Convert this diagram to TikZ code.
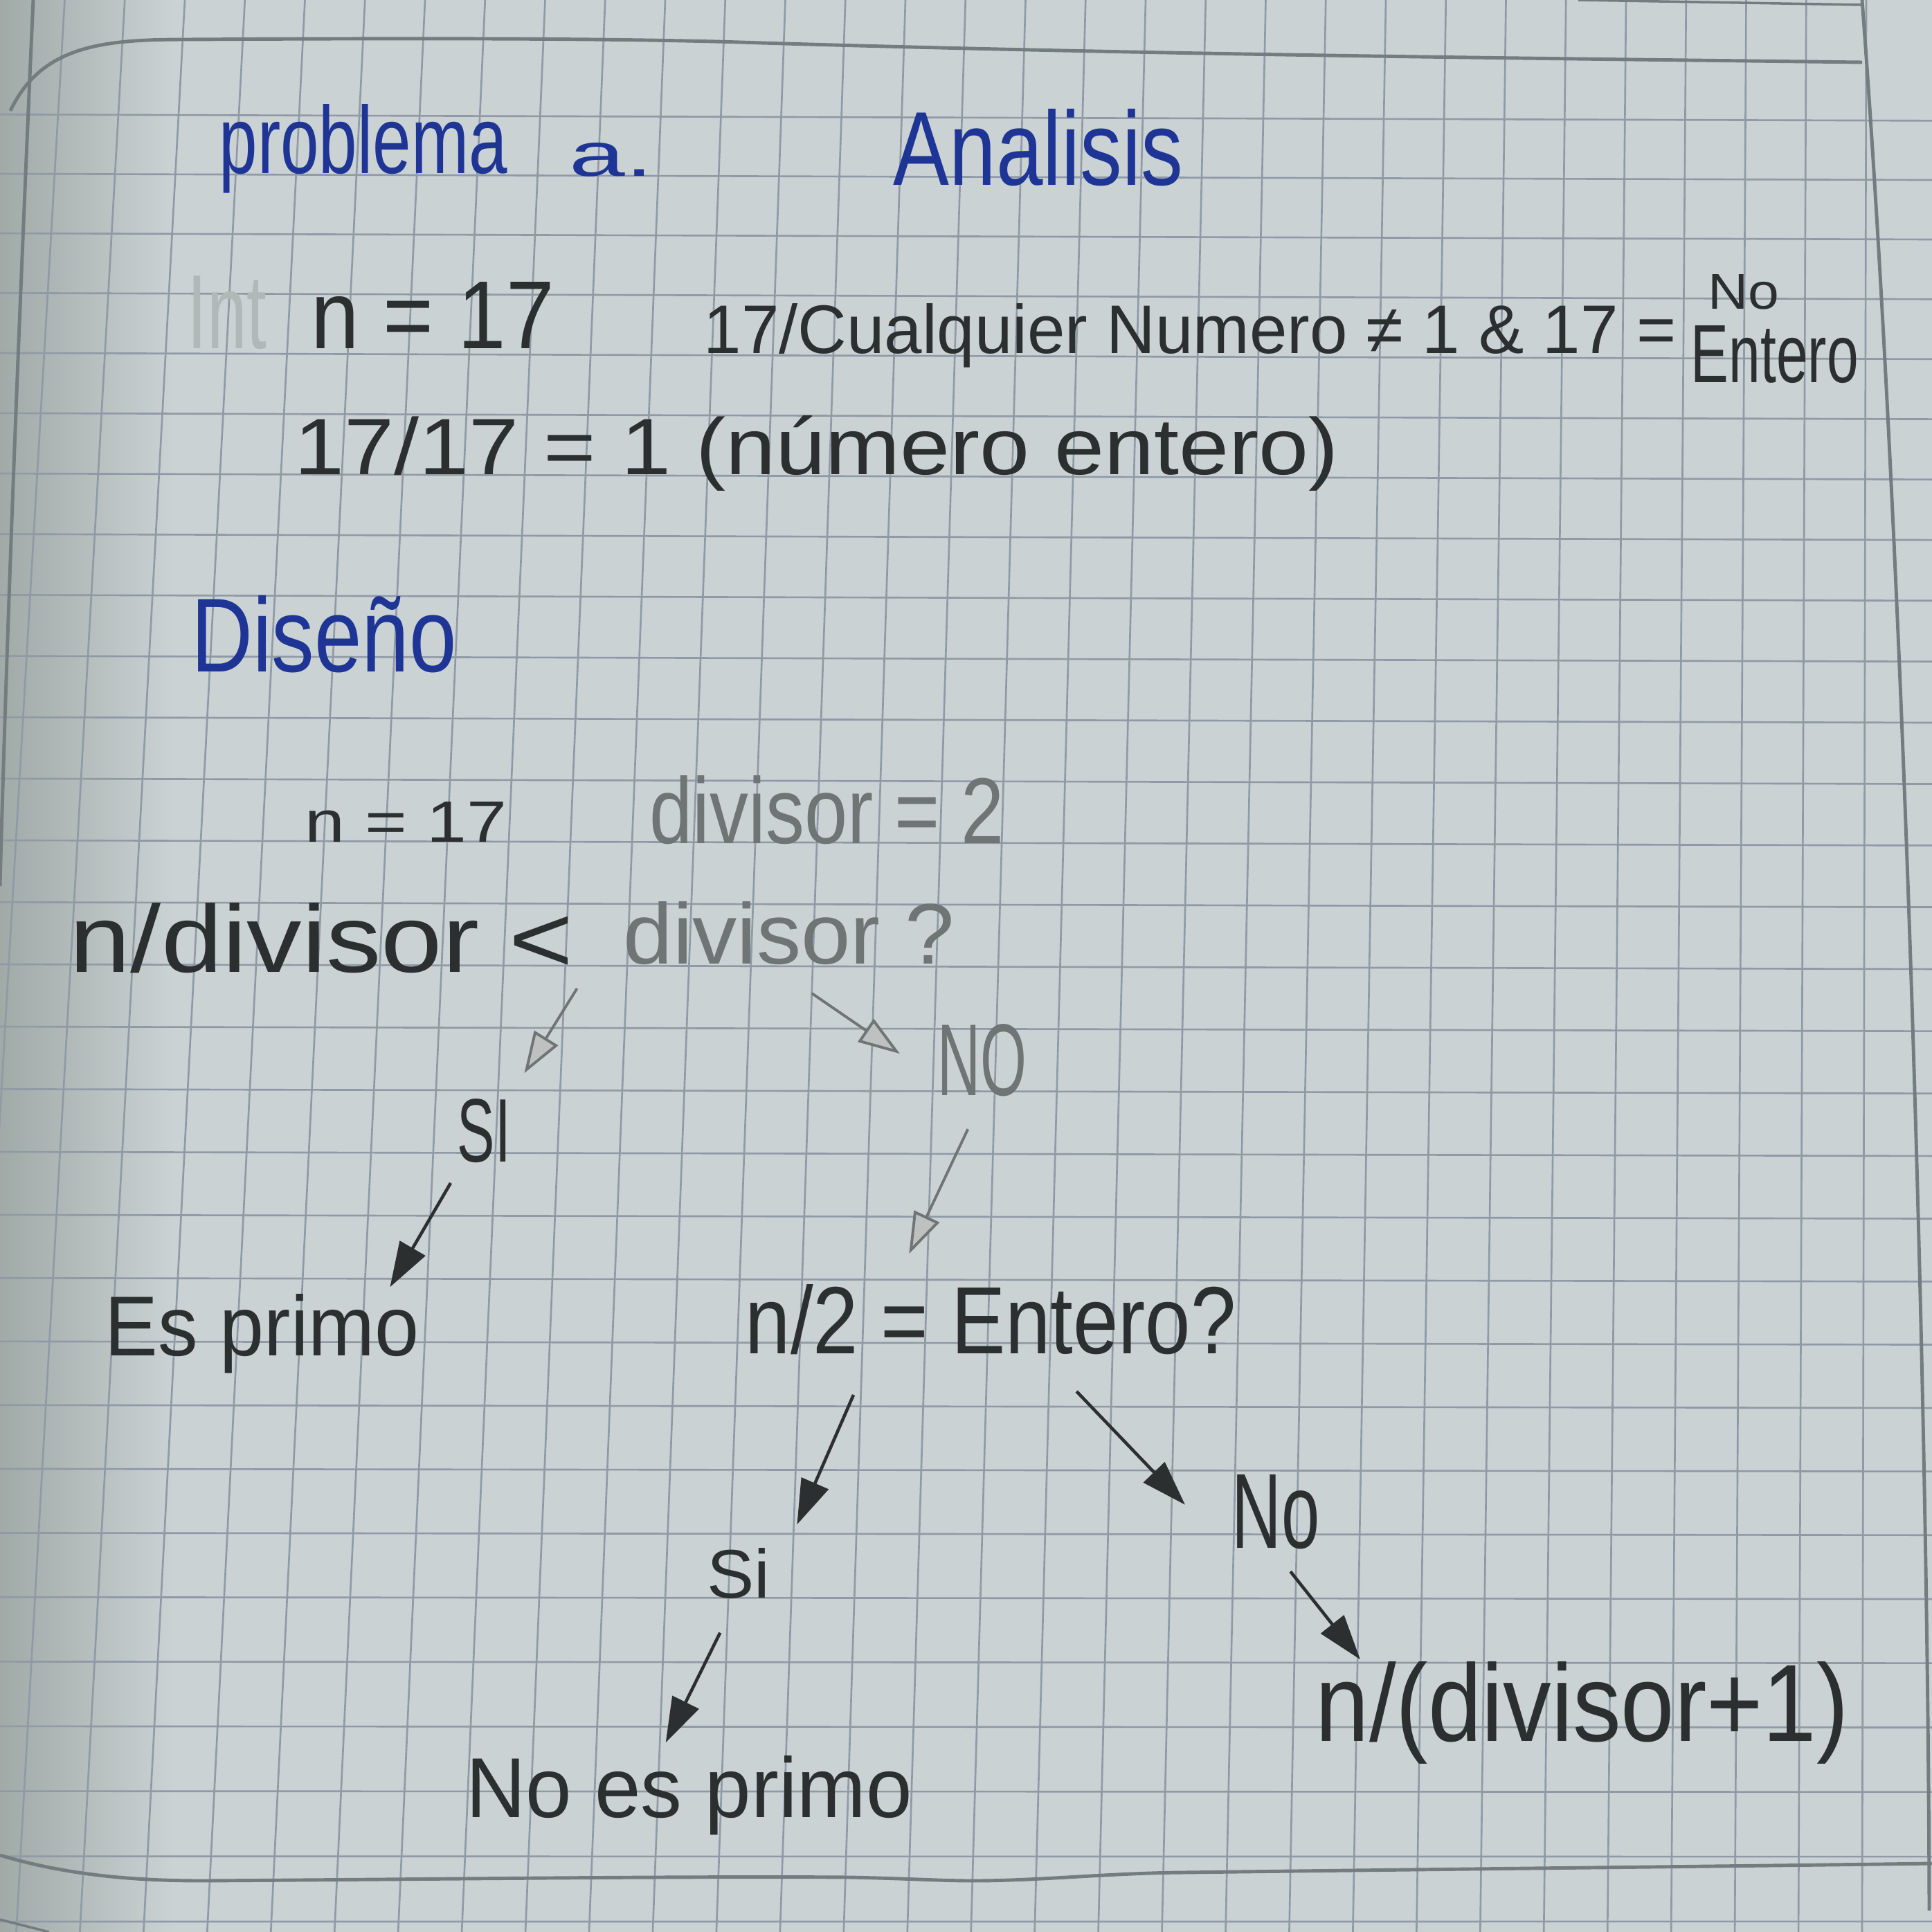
\documentclass[tikz,border=0pt]{standalone}
\usepackage{fontspec}
\usepackage{graphicx}
\newfontfamily\hand{Liberation Sans}
\usetikzlibrary{arrows.meta}

\definecolor{paper}{HTML}{CAD2D3}
\definecolor{paperdark}{HTML}{A0AAA7}
\definecolor{gridline}{HTML}{909AA6}
\definecolor{frameline}{HTML}{737C7E}
\definecolor{ink}{HTML}{2C2F30}
\definecolor{pencil}{HTML}{6E7574}
\definecolor{blueink}{HTML}{1F3596}
\definecolor{ghost}{HTML}{B0B8B8}

% handwritten text squeezed into a box: width, height, text
\newcommand\hw[3]{\resizebox{#1cm}{#2cm}{\hand #3}}

\tikzset{
  txt/.style={inner sep=0pt, anchor=base west},
  pen/.style={draw=ink, line width=1.3pt, -{Triangle[length=6.5mm,width=4.2mm]}},
  pencilarrow/.style={draw=pencil, line width=1.1pt, -{Triangle[length=6mm,width=4mm,fill=pencil!45]}},
  frame/.style={draw=frameline, line width=1.4pt},
}

\begin{document}
\begin{tikzpicture}

% Paper
\useasboundingbox (0,0) rectangle (27.91,-27.91);
\fill[paper] (0,0) rectangle (27.91,-27.91);
\shade[left color=paperdark, right color=paper] (0,0) rectangle (2.5,-27.91);

% Grid
\begin{scope}
\clip (0,0) rectangle (27.91,-27.91);
\foreach \j in {0,...,30} {
  \pgfmathsetmacro\xt{(2696-86.75*\j)/100}
  \pgfmathsetmacro\xb{(2690-91.95*\j)/100}
  \draw[gridline, line width=0.75pt] (\xt,0) -- (\xb,-27.91);
}
\foreach \i in {1,...,31} {
  \pgfmathsetmacro\yl{-(80+85.2*\i+0.1556*\i*\i)/100}
  \pgfmathsetmacro\yr{-(89+85.23*\i+0.1444*\i*\i)/100}
  \draw[gridline, line width=0.75pt] (0,\yl) -- (27.91,\yr);
}
% page edges
\draw[frame] (0.15,-1.6) .. controls (0.6,-0.65) and (1.5,-0.57) .. (2.7,-0.57)
  .. controls (6,-0.55) and (9,-0.55) .. (11,-0.62)
  .. controls (17,-0.8) and (23,-0.85) .. (26.9,-0.9);
\draw[frame, line width=1pt] (22.8,0) -- (26.9,-0.07);
\draw[frame] (0.48,0) .. controls (0.3,-4) and (0.1,-9) .. (0,-12.8);
\draw[frame] (26.9,0) .. controls (27.5,-8) and (27.85,-20) .. (27.87,-27.6);
\draw[frame] (0,-26.8) .. controls (1,-27.1) and (2,-27.17) .. (2.94,-27.17)
  .. controls (6,-27.15) and (10,-27.1) .. (12.28,-27.12)
  .. controls (13.2,-27.14) and (13.6,-27.17) .. (14.06,-27.17)
  .. controls (15,-27.17) and (16,-27.06) .. (17.08,-27.05)
  .. controls (21,-27.0) and (25,-26.96) .. (27.91,-26.92);
\draw[frame, line width=1pt] (0,-27.73) -- (0.71,-27.91);
\end{scope}

% Analisis
\node[txt, text=blueink] (prob) at (3.16,-2.50) {\hw{4.16}{1.00}{problema}};
\node[txt, text=blueink] (pa) at (8.22,-2.54) {\hw{1.21}{0.48}{a.}};
\node[txt, text=blueink] (anal) at (12.90,-2.67) {\hw{4.18}{1.10}{Analisis}};
\node[txt, text=ghost] (intg) at (2.70,-5.03) {\hw{1.15}{1.05}{Int}};
\node[txt, text=ink] (nA) at (4.49,-5.03) {\hw{3.51}{0.96}{n = 17}};
\node[txt, text=ink] (cual) at (10.16,-5.10) {\hw{14.05}{0.72}{17/Cualquier Numero ≠ 1 \& 17 =}};
\node[txt, text=ink] (noA) at (24.67,-4.46) {\hw{1.03}{0.50}{No}};
\node[txt, text=ink] (entA) at (24.42,-5.52) {\hw{2.42}{0.82}{Entero}};
\node[txt, text=ink] (frac) at (4.25,-6.85) {\hw{15.08}{0.85}{17/17 = 1 (número entero)}};

% Diseno
\node[txt, text=blueink] (dis) at (2.76,-9.70) {\hw{3.83}{1.10}{Diseño}};
\node[txt, text=ink] (nB) at (4.40,-12.16) {\hw{2.92}{0.58}{n = 17}};
\node[txt, text=pencil] (divis) at (9.38,-12.18) {\hw{5.12}{0.98}{divisor = 2}};
\node[txt, text=ink] (ndiv) at (1.00,-14.04) {\hw{7.28}{1.00}{n/divisor <}};
\node[txt, text=pencil] (divq) at (9.00,-13.92) {\hw{4.78}{0.90}{divisor ?}};
\node[txt, text=pencil] (bigno) at (13.54,-15.82) {\hw{1.29}{1.03}{NO}};
\node[txt, text=ink] (si1) at (6.60,-16.78) {\hw{0.77}{0.91}{SI}};
\node[txt, text=ink] (esp) at (1.51,-19.58) {\hw{4.54}{0.89}{Es primo}};
\node[txt, text=ink] (ent2) at (10.76,-19.55) {\hw{7.09}{1.00}{n/2 = Entero?}};
\node[txt, text=ink] (si2) at (10.21,-23.08) {\hw{0.91}{0.72}{Si}};
\node[txt, text=ink] (no2) at (17.79,-22.36) {\hw{1.27}{1.06}{No}};
\node[txt, text=ink] (nep) at (6.73,-26.25) {\hw{6.44}{0.89}{No es primo}};
\node[txt, text=ink] (nsig) at (19.00,-25.15) {\hw{7.70}{1.15}{n/(divisor+1)}};

% Arrows
\draw[pencilarrow] ([xshift=0.04cm,yshift=-0.24cm]ndiv.base east) -- ([xshift=0.19cm,yshift=0.36cm]si1.north east);
\draw[pencilarrow] ([xshift=0.33cm,yshift=-0.41cm]divq.south) -- ([xshift=-0.54cm,yshift=0.09cm]bigno.west);
\draw[pen] ([xshift=-0.09cm,yshift=-0.29cm]si1.south west) -- ([xshift=-0.43cm,yshift=0.09cm]esp.north east);
\draw[pencilarrow] ([xshift=-0.21cm,yshift=-0.47cm]bigno.south) -- ([xshift=-1.18cm,yshift=0.43cm]ent2.north);
\draw[pen] ([xshift=1.57cm,yshift=-0.58cm]ent2.south west) -- ([xshift=0.38cm,yshift=0.33cm]si2.north east);
\draw[pen] ([xshift=1.24cm,yshift=-0.53cm]ent2.south) -- ([xshift=-0.67cm,yshift=0.10cm]no2.west);
\draw[pen] ([xshift=-0.27cm,yshift=-0.49cm]si2.south) -- ([xshift=-0.34cm,yshift=0.18cm]nep.north);
\draw[pen] ([xshift=0.21cm,yshift=-0.32cm]no2.south) -- ([xshift=0.65cm,yshift=0.02cm]nsig.north west);

\end{tikzpicture}
\end{document}
